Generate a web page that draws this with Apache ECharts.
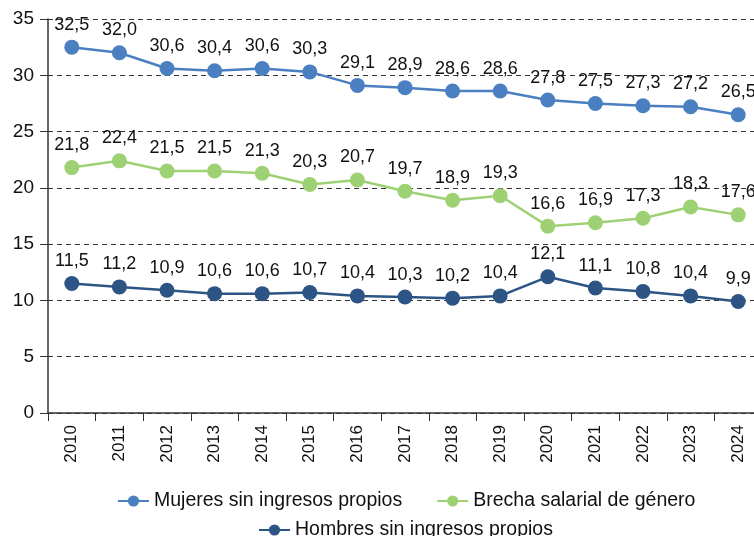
<!DOCTYPE html>
<html lang="es">
<head>
<meta charset="UTF-8">
<title>Chart</title>
<style>html,body{margin:0;padding:0;background:#fff}</style>
</head>
<body>
<div id="main" style="width:754px;height:536px;"></div>
<script src="https://cdn.jsdelivr.net/npm/echarts@6/dist/echarts.min.js"></script>
<script>
var years = ['2010','2011','2012','2013','2014','2015','2016','2017','2018','2019','2020','2021','2022','2023','2024'];
var mujeres = [32.5, 32.0, 30.6, 30.4, 30.6, 30.3, 29.1, 28.9, 28.6, 28.6, 27.8, 27.5, 27.3, 27.2, 26.5];
var brecha = [21.8, 22.4, 21.5, 21.5, 21.3, 20.3, 20.7, 19.7, 18.9, 19.3, 16.6, 16.9, 17.3, 18.3, 17.6];
var hombres = [11.5, 11.2, 10.9, 10.6, 10.6, 10.7, 10.4, 10.3, 10.2, 10.4, 12.1, 11.1, 10.8, 10.4, 9.9];

var font = 'Liberation Sans, Arial, sans-serif';
var myChart = echarts.init(document.getElementById('main'));

function serie(name, data, color) {
    return {
        name: name,
        type: 'line',
        data: data,
        symbol: 'circle',
        symbolSize: 15,
        lineStyle: { color: color, width: 2.5 },
        itemStyle: { color: color },
        label: {
            show: true,
            position: 'top',
            distance: 6,
            color: '#111',
            fontSize: 18,
            fontFamily: font,
            formatter: function (p) { return p.value.toFixed(1).replace('.', ','); }
        }
    };
}

var legendBase = {
    itemWidth: 31,
    itemHeight: 14,
    itemGap: 34,
    textStyle: { fontSize: 19.5, fontFamily: font, color: '#111' }
};

var option = {
    animation: false,
    grid: { left: 48, top: 19, width: 714, height: 394, outerBoundsMode: 'none' },
    legend: [
        Object.assign({}, legendBase, { left: 112, top: 486, data: ['Mujeres sin ingresos propios', 'Brecha salarial de género'] }),
        Object.assign({}, legendBase, { left: 253, top: 515, data: ['Hombres sin ingresos propios'] })
    ],
    xAxis: {
        type: 'category',
        data: years,
        boundaryGap: true,
        axisLine: { lineStyle: { color: '#333', width: 1.5 } },
        axisTick: { show: true, length: 8, lineStyle: { color: '#333' } },
        axisLabel: { rotate: 90, fontSize: 17, fontFamily: font, color: '#111', margin: 12 }
    },
    yAxis: {
        type: 'value',
        min: 0,
        max: 35,
        interval: 5,
        axisLine: { show: true, lineStyle: { color: '#333', width: 1.5 } },
        axisTick: { show: true, length: 8, lineStyle: { color: '#333' } },
        axisLabel: { fontSize: 19, fontFamily: font, color: '#111', margin: 14 },
        splitLine: { lineStyle: { type: [5, 4], color: '#333', width: 1 } }
    },
    series: [
        serie('Mujeres sin ingresos propios', mujeres, '#4a7fc1'),
        serie('Brecha salarial de género', brecha, '#9ed174'),
        serie('Hombres sin ingresos propios', hombres, '#2c5484')
    ]
};
myChart.setOption(option);
</script>
</body>
</html>
